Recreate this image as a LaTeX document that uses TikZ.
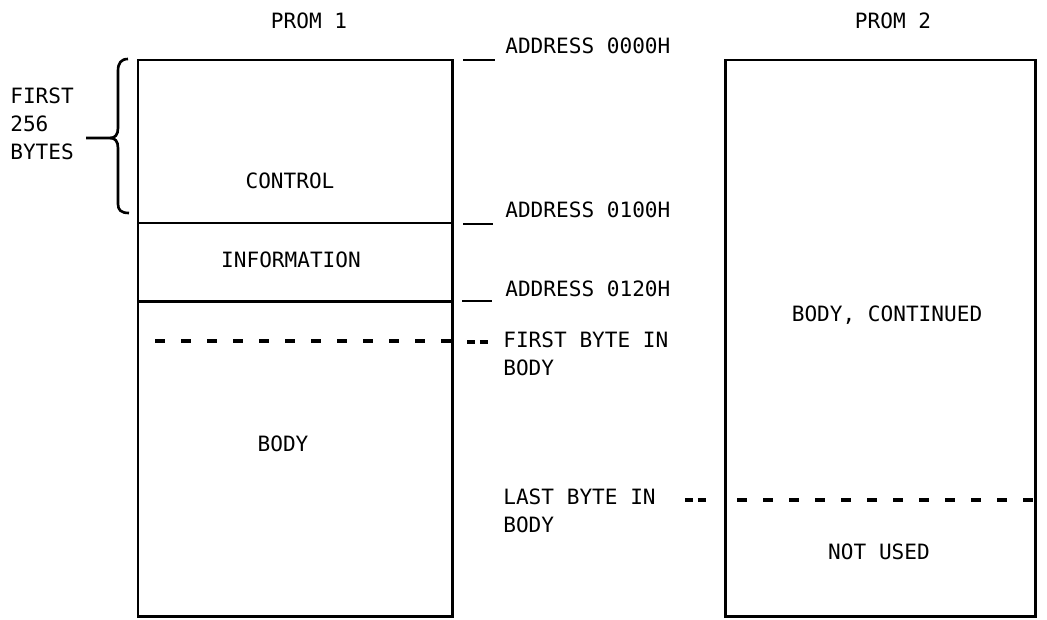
\documentclass[tikz,border=0pt]{standalone}
\usepackage{fontspec}
\newfontfamily\promfont{DejaVu Sans Mono}
\usepackage{tikz}
\usetikzlibrary{calc}

\tikzset{
  txt/.style={font={\promfont\fontsize{12}{15.9}\selectfont}, inner sep=0pt},
  lbl/.style={txt, text height=8.75pt, text depth=0pt},
  addr/.style={lbl, anchor=west},
  side/.style={txt, anchor=base west, align=left},
  wall/.style={line width=1.7pt},
  cut/.style={line width=2pt, dash pattern=on 5.7pt off 9.1pt},
  tick/.style={line width=2pt, dash pattern=on 4.5pt off 2.8pt},
  lead/.style={line width=1.5pt}
}

\begin{document}
\begin{tikzpicture}[x=0.02cm,y=-0.02cm]
        \useasboundingbox (0,0) rectangle (1047,619);

        % prom 1
        \draw[wall] (138,60) rectangle (452,616);
        \draw[wall] (138,223) -- (452,223);
        \draw[wall] (138,301) -- (452,301);
        \draw[cut] (155,341) -- (452,341);

        % prom 2
        \draw[wall] (725,60) rectangle (1035,616);
        \draw[cut] (737,500) -- (1035,500);

        \node[lbl] (prom1) at (309,21) {PROM 1};
        \node[lbl] (prom2) at (893,21) {PROM 2};
        \node[lbl] (control) at (290,181) {CONTROL};
        \node[lbl] (info) at (291,260) {INFORMATION};
        \node[lbl] (body) at (283,444) {BODY};
        \node[lbl] (bodycont) at (887,314) {BODY, CONTINUED};
        \node[lbl] (notused) at (879,552) {NOT USED};

        % addresses
        \node[addr] (adr0) at (505,46) {ADDRESS 0000H};
        \node[addr] (adr1) at (505,210) {ADDRESS 0100H};
        \node[addr] (adr2) at (505,289) {ADDRESS 0120H};
        \node[side] (first) at (503,375) {FIRST BYTE IN\\BODY};
        \node[side] (last) at (503,532) {LAST BYTE IN\\BODY};
        \node[side] (bytes) at (10,159) {FIRST\\256\\BYTES};

        \coordinate (l0) at (463,60);
        \coordinate (l1) at (463,224);
        \coordinate (l2) at (462,301);
        \coordinate (t1) at (467,342);
        \coordinate (t2) at (685,500);
        \draw[lead] (l0) -- ++(32,0);
        \draw[lead] (l1) -- ++(30,0);
        \draw[lead] (l2) -- ++(30,0);
        \draw[tick] (t1) -- ++(23,0);
        \draw[tick] (t2) -- ++(23,0);

        % brace
        \coordinate (tip) at (110,138);
        \draw[lead] (128,59) .. controls (121,59) and (118,63) .. (118,71) -- (118,128)
                .. controls (118,135) and (115,138) .. (tip) -- (86,138);
        \draw[lead] (tip) .. controls (115,138) and (118,141) .. (118,148) -- (118,204)
                .. controls (118,210) and (121,213) .. (129,213);
\end{tikzpicture}
\end{document}
